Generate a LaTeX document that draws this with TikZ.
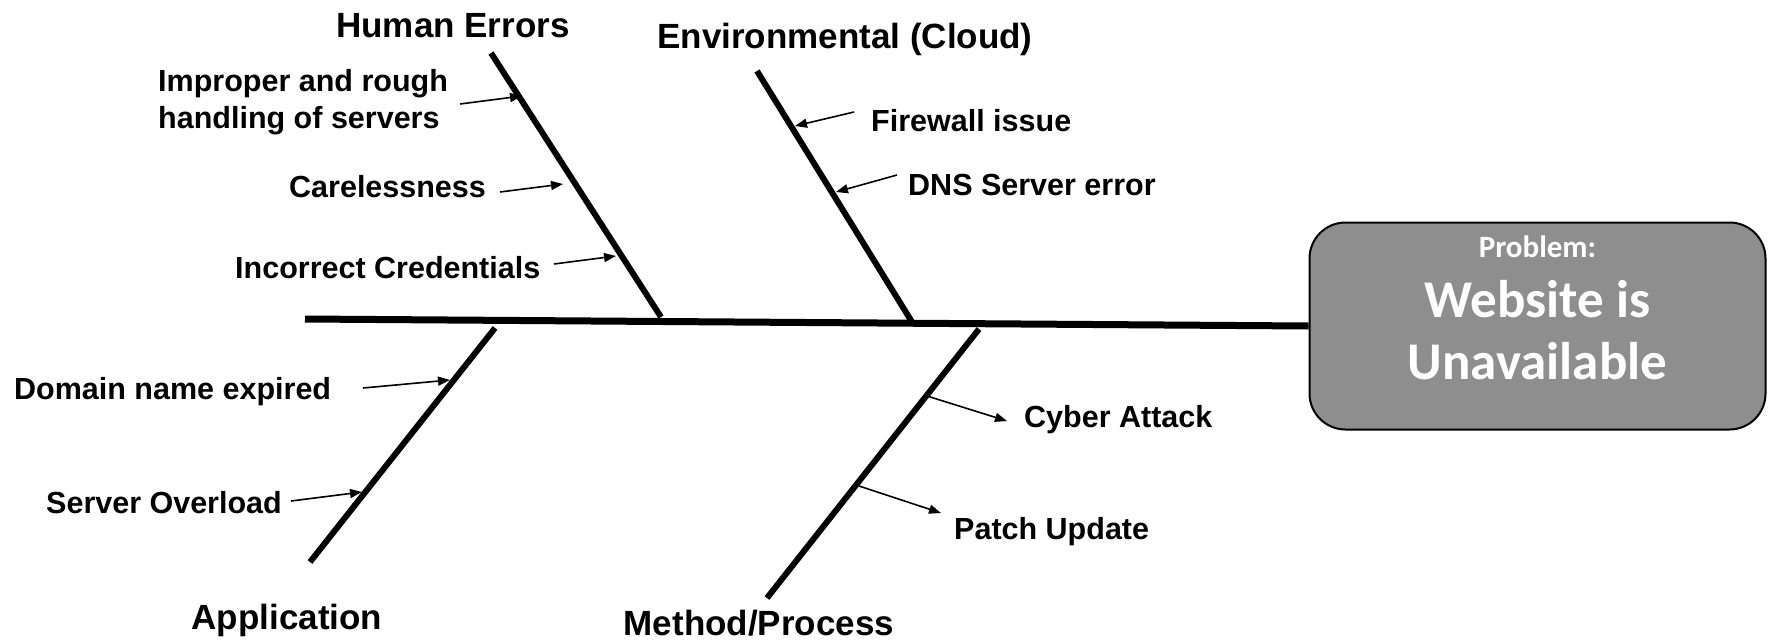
\documentclass[tikz,border=0pt]{standalone}
\usepackage{fontspec}
\setmainfont{Liberation Sans}
\newfontfamily\boxfont{Carlito}
\usetikzlibrary{arrows.meta}
\definecolor{boxgray}{HTML}{8E8E8E}
\tikzset{
  bone/.style={line width=6pt},
  spine/.style={line width=7pt},
  cause/.style={line width=1.6pt,-{Triangle[length=12pt,width=9pt]}},
  heading/.style={font=\fontsize{35}{40}\selectfont\bfseries,inner sep=0pt},
  label/.style={font=\fontsize{30.5}{37}\selectfont\bfseries,inner sep=0pt,anchor=west,align=left},
}
\begin{document}
\begin{tikzpicture}[x=1pt,y=-1pt]
\useasboundingbox (0,0) rectangle (1769,643);

% problem box
\node[draw=black,line width=2pt,fill=boxgray,rounded corners=36pt,
      minimum width=456pt,minimum height=207pt,inner sep=0pt] (prob) at (1537.5,326) {};
\node[text=white,font=\boxfont\bfseries\fontsize{31}{36}\selectfont,inner sep=0pt,anchor=base] (pl1) at (1537.5,257) {Problem:};
\node[text=white,font=\boxfont\bfseries\fontsize{53}{60}\selectfont,inner sep=0pt,anchor=base] (pl2) at (1537.5,317) {Website is};
\node[text=white,font=\boxfont\bfseries\fontsize{53}{60}\selectfont,inner sep=0pt,anchor=base] (pl3) at (1537.5,379) {Unavailable};

% spine
\coordinate (tail) at (305,319);
\draw[spine] (tail) -- (prob.west);

% bones
\coordinate (h1) at (491,53);  \coordinate (h2) at (661,317);
\coordinate (e1) at (757,71);  \coordinate (e2) at (912,322);
\coordinate (a1) at (495,328); \coordinate (a2) at (310,562);
\coordinate (m1) at (979,329); \coordinate (m2) at (767,598);
\draw[bone] (h1) -- (h2);
\draw[bone] (e1) -- (e2);
\draw[bone] (a1) -- (a2);
\draw[bone] (m1) -- (m2);

% headings
\node[heading] (hh) at (453,26) {Human Errors};
\node[heading] (he) at (845,39) {Environmental (Cloud)};
\node[heading] (ha) at (287,620) {Application};
\node[heading,anchor=base] (hm) at (759,635) {Method/Process};

% human errors causes
\node[label] (c1) at (158,102) {Improper and rough\\handling of servers};
\node[label] (c2) at (289,187) {Carelessness};
\node[label] (c3) at (235,268) {Incorrect Credentials};
\coordinate (c1s) at (460,104); \coordinate (c1e) at (522,96);
\coordinate (c2s) at (500,192); \coordinate (c2e) at (563,184);
\coordinate (c3s) at (554,264); \coordinate (c3e) at (616,256);
\draw[cause] (c1s) -- (c1e);
\draw[cause] (c2s) -- (c2e);
\draw[cause] (c3s) -- (c3e);

% environmental causes
\node[label] (c4) at (871,121) {Firewall issue};
\node[label] (c5) at (908,185) {DNS Server error};
\coordinate (c4s) at (854,112); \coordinate (c4e) at (795,126);
\coordinate (c5s) at (897,175); \coordinate (c5e) at (836,192);
\draw[cause] (c4s) -- (c4e);
\draw[cause] (c5s) -- (c5e);

% application causes
\node[label] (c6) at (14,392) {Domain name expired};
\node[label] (c7) at (46,503) {Server Overload};
\coordinate (c6s) at (363,388); \coordinate (c6e) at (450,380);
\coordinate (c7s) at (291,501); \coordinate (c7e) at (362,492);
\draw[cause] (c6s) -- (c6e);
\draw[cause] (c7s) -- (c7e);

% method causes
\node[label] (c8) at (1024,420) {Cyber Attack};
\node[label] (c9) at (954,532) {Patch Update};
\coordinate (c8s) at (927,396); \coordinate (c8e) at (1007,421);
\coordinate (c9s) at (859,486); \coordinate (c9e) at (941,513);
\draw[cause] (c8s) -- (c8e);
\draw[cause] (c9s) -- (c9e);
\end{tikzpicture}
\end{document}
